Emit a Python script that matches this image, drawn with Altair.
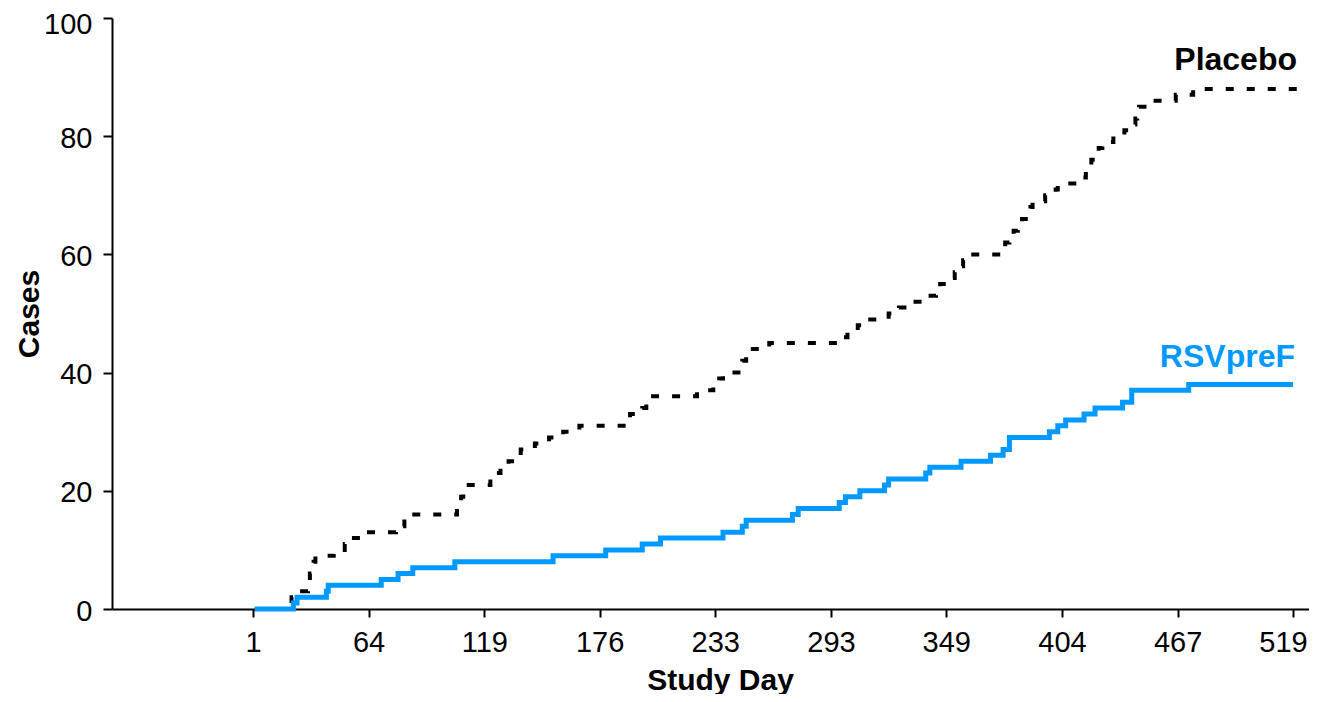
import altair as alt
import pandas as pd

# ---- data (study day at which the cumulative count is reached) ----
placebo_day = [2, 19, 22, 25, 31, 32, 33, 34, 35, 45, 51, 52, 63, 77, 81, 106, 107, 108, 109, 110,
               122, 124, 127, 131, 134, 137, 144, 151, 158, 166, 189, 191, 197, 199, 201, 224, 232,
               235, 237, 245, 247, 249, 251, 261, 299, 301, 306, 309, 321, 326, 331, 339, 344, 346,
               350, 353, 355, 357, 358, 376, 377, 379, 381, 383, 385, 388, 389, 390, 396, 401, 402,
               412, 417, 419, 420, 422, 424, 426, 432, 438, 443, 444, 445, 446, 452, 466, 474, 521]
placebo_cases = [0, 1, 2, 3, 4, 6, 7, 8, 9, 10, 11, 12, 13, 14, 16, 17, 18, 19, 20, 21,
                 22, 23, 24, 25, 26, 27, 28, 29, 30, 31, 32, 33, 34, 35, 36, 37, 38,
                 39, 40, 41, 42, 43, 44, 45, 46, 47, 48, 49, 50, 51, 52, 53, 54, 55,
                 56, 57, 58, 59, 60, 61, 62, 63, 64, 65, 66, 67, 68, 69, 70, 71, 72,
                 73, 74, 75, 76, 77, 78, 79, 80, 81, 82, 83, 84, 85, 86, 87, 88, 88]

rsv_day = [2, 23, 25, 41, 42, 70, 78, 85, 105, 153, 179, 197, 206, 237, 247, 249, 273, 276, 297,
           300, 307, 319, 321, 339, 341, 356, 370, 376, 379, 398, 402, 406, 416, 422, 437, 442,
           472, 519]
rsv_cases = [0, 1, 2, 3, 4, 5, 6, 7, 8, 9, 10, 11, 12, 13, 14, 15, 16, 17, 18,
             19, 20, 21, 22, 23, 24, 25, 26, 27, 29, 30, 31, 32, 33, 34, 35, 37,
             38, 38]

tick_days = [1, 64, 119, 176, 233, 293, 349, 404, 467, 519]
y_ticks = [0, 20, 40, 60, 80, 100]
series_names = ["Placebo", "RSVpreF"]

# ---- layout / style ----
W, H = 1197, 591
FONT = "Liberation Sans"
BLUE = "#0099ff"
# evenly spaced tick positions (piecewise-linear day axis as in the original figure)
tick_px = [141, 256.6, 372.3, 487.6, 603.3, 719, 834.3, 950, 1065.6, 1181]
x_scale = alt.Scale(domain=[-75.8] + tick_days + [526.2], range=[0] + tick_px + [W],
                    nice=False, zero=False)
y_scale = alt.Scale(domain=[0, 100], nice=False, zero=False)

x_axis = alt.Axis(values=tick_days, format="d", title="Study Day", grid=False,
                  labelFontSize=29, labelColor="black", labelFont=FONT, labelPadding=11,
                  labelFlush=False, labelOverlap=False,
                  labelOffset={"condition": {"test": "datum.value === 519", "value": -10},
                               "value": 0},
                  tickSize=8, tickWidth=2, tickColor="black",
                  domainWidth=2, domainColor="black",
                  titleFontSize=30, titleFontWeight="bold", titleFont=FONT, titleColor="black",
                  titleX=608, titleY=80, titleBaseline="alphabetic", titleAlign="center")
y_axis = alt.Axis(values=y_ticks, format="d", title="Cases", grid=False,
                  labelFontSize=29, labelColor="black", labelFont=FONT, labelPadding=11,
                  labelOffset={"condition": {"test": "datum.value === 100", "value": 6},
                               "value": 2},
                  tickSize=9, tickWidth=2, tickColor="black",
                  domainWidth=2, domainColor="black",
                  titleFontSize=30, titleFontWeight="bold", titleFont=FONT, titleColor="black",
                  titleAngle=270, titleX=-74, titleY=H / 2, titleBaseline="alphabetic",
                  titleAlign="center")

placebo = pd.DataFrame({"day": placebo_day, "cases": placebo_cases, "group": series_names[0]})
rsv = pd.DataFrame({"day": rsv_day, "cases": rsv_cases, "group": series_names[1]})

line_p = alt.Chart(placebo).mark_line(
    interpolate="step-after", color="black", strokeWidth=4, strokeDash=[8, 13], strokeCap="butt"
).encode(
    x=alt.X("day:Q", scale=x_scale, axis=x_axis),
    y=alt.Y("cases:Q", scale=y_scale, axis=y_axis),
)

line_r = alt.Chart(rsv).mark_line(
    interpolate="step-after", color=BLUE, strokeWidth=5, strokeCap="butt"
).encode(
    x=alt.X("day:Q", scale=x_scale),
    y=alt.Y("cases:Q", scale=y_scale),
)

lab_p = alt.Chart(pd.DataFrame({"label": [series_names[0]]})).mark_text(
    font=FONT, fontSize=32, fontWeight="bold", color="black", align="right", baseline="alphabetic"
).encode(text="label:N", x=alt.value(1185), y=alt.value(52))

lab_r = alt.Chart(pd.DataFrame({"label": [series_names[1]]})).mark_text(
    font=FONT, fontSize=32, fontWeight="bold", color=BLUE, align="right", baseline="alphabetic"
).encode(text="label:N", x=alt.value(1183), y=alt.value(349))

chart = alt.layer(line_p, line_r, lab_p, lab_r).properties(
    width=W, height=H,
    padding={"left": 104, "top": 10, "right": 0, "bottom": 85},
    autosize=alt.AutoSizeParams(type="none"),
).configure(font=FONT).configure_view(stroke=None)

chart.save("out.html", embed_options={"renderer": "svg", "actions": False})
